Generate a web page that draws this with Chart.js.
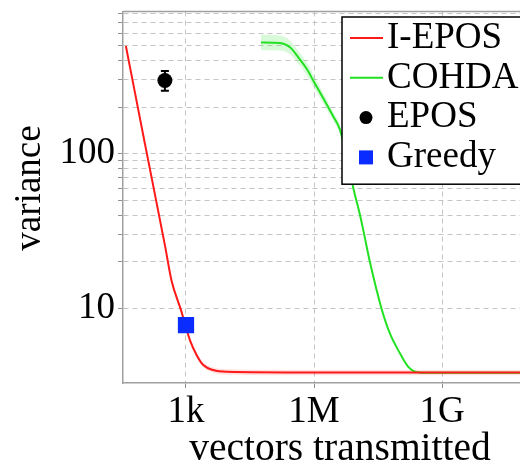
<!DOCTYPE html>
<html>
<head>
<meta charset="utf-8">
<script src="https://cdn.jsdelivr.net/npm/chart.js@4.4.1/dist/chart.umd.min.js"></script>
<style>
  html, body { margin: 0; padding: 0; overflow: hidden; background: #fff; }
  #wrap { width: 570px; height: 469px; }
</style>
</head>
<body>
<div id="wrap"><canvas id="chart" width="570" height="469"></canvas></div>
<script>
// I-EPOS curve
const iEposX = [39, 109, 322, 462, 752, 948, 1242, 1782, 2545, 4365, 9000, 1e6, 5e11];
const iEposY = [497, 116, 25.5, 15, 9.9, 7.95, 6.22, 4.99, 4.31, 4.0, 3.9, 3.86, 3.86];
const iEposHi = [515, 120, 26.5, 15.6, 10.3, 8.25, 6.45, 5.18, 4.47, 4.15, 4.05, 4.01, 4.01];
const iEposLo = [480, 112, 24.5, 14.4, 9.5, 7.65, 6.0, 4.8, 4.15, 3.85, 3.75, 3.71, 3.71];

// COHDA curve
const cohdaX = [5.73e4, 1.6e5, 2.74e5, 4.28e5, 6.74e5, 1.05e6, 1.65e6, 2.83e6, 4.06e6, 6.25e6, 8.8e6,
                1.2e7, 1.51e7, 2.05e7, 3.86e7, 6.04e7, 1.04e8, 1.62e8, 2.33e8, 4e8, 5e11];
const cohdaY = [524, 519, 487, 420, 354, 284, 228, 174, 143, 86, 56.4,
                40, 29.8, 19.9, 9.9, 6.87, 5.12, 4.2, 3.91, 3.84, 3.84];
const cohdaHi = [590, 580, 540, 462, 388, 310, 247, 186, 152, 90, 58.5,
                 41.2, 30.5, 20.2, 10, 6.93, 5.15, 4.22, 3.93, 3.86, 3.86];
const cohdaLo = [466, 464, 439, 382, 323, 260, 210, 163, 135, 82, 54.4,
                 38.8, 29.1, 19.6, 9.8, 6.81, 5.09, 4.18, 3.89, 3.82, 3.82];

// single results
const eposX = [320], eposY = [297], eposLow = [255], eposHigh = [343];
const greedyX = [1000], greedyY = [7.8];

// axes
const xTickValues = [1e3, 1e6, 1e9];
const xTickLabels = ['1k', '1M', '1G'];
const yGridValues = [10, 20, 30, 40, 50, 60, 70, 80, 90, 100, 200, 300, 400, 500, 600, 700, 800];
const yLabelValues = [10, 100];

const pts = (xs, ys) => xs.map((x, i) => ({ x: x, y: ys[i] }));

Chart.defaults.font.family = '"Liberation Serif", "Times New Roman", serif';
Chart.defaults.color = '#000';

// top frame line
const frameTop = {
    id: 'frameTop',
    afterDraw(chart) {
        const { ctx, chartArea } = chart;
        ctx.save();
        ctx.strokeStyle = '#a0a0a0';
        ctx.lineWidth = 1.5;
        ctx.beginPath();
        ctx.moveTo(chartArea.left, chartArea.top);
        ctx.lineTo(chartArea.right, chartArea.top);
        ctx.stroke();
        ctx.restore();
    }
};

// error bar on the EPOS point
const errorBars = {
    id: 'errorBars',
    afterDatasetsDraw(chart) {
        const { ctx, scales } = chart;
        ctx.save();
        ctx.strokeStyle = '#000';
        ctx.lineWidth = 2;
        eposX.forEach((x, i) => {
            const px = scales.x.getPixelForValue(x);
            const top = scales.y.getPixelForValue(eposHigh[i]);
            const bot = scales.y.getPixelForValue(eposLow[i]);
            ctx.beginPath();
            ctx.moveTo(px, top); ctx.lineTo(px, bot);
            ctx.moveTo(px - 4, top); ctx.lineTo(px + 4, top);
            ctx.moveTo(px - 4, bot); ctx.lineTo(px + 4, bot);
            ctx.stroke();
        });
        ctx.restore();
    }
};

// legend box in the upper right corner
const boxLegend = {
    id: 'boxLegend',
    afterDraw(chart) {
        const { ctx } = chart;
        const items = chart.data.datasets.filter(d => d.label);
        const left = 342, top = 17, right = 560, rowH = 39.8;
        ctx.save();
        ctx.fillStyle = '#fff';
        ctx.fillRect(left, top, right - left, items.length * rowH + 8);
        ctx.strokeStyle = '#000';
        ctx.lineWidth = 1.5;
        ctx.strokeRect(left, top, right - left, items.length * rowH + 8);
        ctx.font = '37px "Liberation Serif", "Times New Roman", serif';
        ctx.textBaseline = 'middle';
        items.forEach((d, i) => {
            const y = top + 21 + i * rowH;
            if (d.showLine) {
                ctx.strokeStyle = d.borderColor;
                ctx.lineWidth = 2;
                ctx.beginPath();
                ctx.moveTo(350, y); ctx.lineTo(383, y);
                ctx.stroke();
            } else if (d.pointStyle === 'rect') {
                ctx.fillStyle = d.backgroundColor;
                ctx.fillRect(359, y - 7, 14, 14);
            } else {
                ctx.fillStyle = d.backgroundColor;
                ctx.beginPath();
                ctx.arc(366, y, 6.5, 0, Math.PI * 2);
                ctx.fill();
            }
            ctx.fillStyle = '#000';
            ctx.fillText(d.label, 387, y);
        });
        ctx.restore();
    }
};

const ctx = document.getElementById('chart').getContext('2d');
new Chart(ctx, {
    type: 'scatter',
    data: {
        datasets: [
            { label: 'I-EPOS', data: pts(iEposX, iEposY), showLine: true, borderColor: '#ff1a1a', borderWidth: 2,
              pointRadius: 0, cubicInterpolationMode: 'monotone', order: 1 },
            { label: 'COHDA', data: pts(cohdaX, cohdaY), showLine: true, borderColor: '#22e022', borderWidth: 2,
              pointRadius: 0, cubicInterpolationMode: 'monotone', order: 1 },
            { label: 'EPOS', data: pts(eposX, eposY), pointStyle: 'circle', pointRadius: 7.5,
              backgroundColor: '#000', borderColor: '#000', borderWidth: 0, order: 0 },
            { label: 'Greedy', data: pts(greedyX, greedyY), pointStyle: 'rect', pointRadius: 11.5,
              backgroundColor: '#0a2cff', borderColor: '#0a2cff', borderWidth: 0, order: 0 },
            // shaded bands
            { data: pts(cohdaX, cohdaHi), showLine: true, borderWidth: 0, pointRadius: 0, fill: '+1',
              backgroundColor: 'rgba(80, 230, 80, 0.22)', cubicInterpolationMode: 'monotone', order: 2 },
            { data: pts(cohdaX, cohdaLo), showLine: true, borderWidth: 0, pointRadius: 0,
              cubicInterpolationMode: 'monotone', order: 2 },
            { data: pts(iEposX, iEposHi), showLine: true, borderWidth: 0, pointRadius: 0, fill: '+1',
              backgroundColor: 'rgba(255, 90, 90, 0.18)', cubicInterpolationMode: 'monotone', order: 2 },
            { data: pts(iEposX, iEposLo), showLine: true, borderWidth: 0, pointRadius: 0,
              cubicInterpolationMode: 'monotone', order: 2 }
        ]
    },
    options: {
        responsive: false,
        animation: false,
        layout: { padding: { left: 0, top: 7, right: 13, bottom: 0 } },
        plugins: { legend: { display: false }, tooltip: { enabled: false } },
        scales: {
            x: {
                type: 'logarithmic',
                min: 33.4, max: 4.95e11,
                afterBuildTicks: s => { s.ticks = xTickValues.map(v => ({ value: v })); },
                afterFit: s => { s.height = 86; s.paddingLeft = 0; s.paddingRight = 0; },
                ticks: {
                    font: { size: 37 }, padding: 2, maxRotation: 0, autoSkip: false,
                    callback: v => xTickLabels[xTickValues.indexOf(v)] || ''
                },
                grid: { color: '#c4c4c4', lineWidth: 1, tickLength: 5, tickColor: '#909090', borderDash: [5, 4] },
                border: { color: '#a0a0a0', width: 1.5, dash: [5, 4] },
                title: { display: true, text: 'vectors transmitted', font: { size: 39.5, lineHeight: 1 },
                         padding: { top: 0, bottom: 0 } }
            },
            y: {
                type: 'logarithmic',
                min: 3.3, max: 830,
                afterBuildTicks: s => { s.ticks = yGridValues.map(v => ({ value: v })); },
                afterFit: s => { s.width = 123; s.paddingTop = 0; s.paddingBottom = 0; },
                ticks: {
                    font: { size: 37 }, padding: 3, autoSkip: false,
                    callback: v => yLabelValues.includes(v) ? String(v) : ''
                },
                grid: { color: '#c4c4c4', lineWidth: 1, tickLength: 5, tickColor: '#909090', borderDash: [5, 4] },
                border: { color: '#a0a0a0', width: 1.5, dash: [5, 4] },
                title: { display: true, text: '  variance', font: { size: 37 }, padding: { top: 8 } }
            }
        }
    },
    plugins: [frameTop, errorBars, boxLegend]
});
</script>
</body>
</html>
